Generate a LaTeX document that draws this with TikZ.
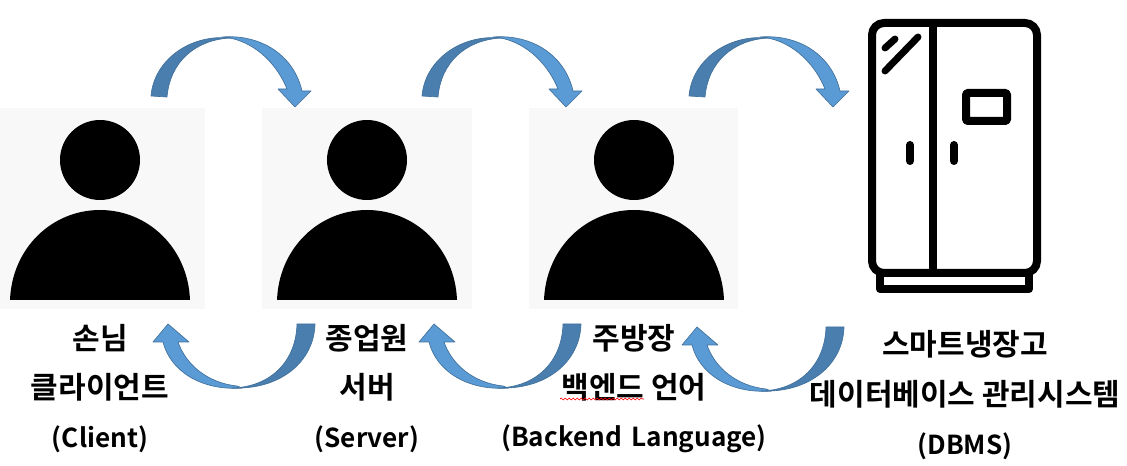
\documentclass[tikz,border=0pt]{standalone}
\usepackage{fontspec}
\setmainfont{Noto Sans CJK KR}[BoldFont={Noto Sans CJK KR Bold}]
\usetikzlibrary{decorations.pathmorphing}
\definecolor{darkblue}{HTML}{4A7EAE}
\definecolor{lightblue}{HTML}{5B9BD5}
\definecolor{edgeblue}{HTML}{41719C}
\definecolor{panelgrey}{HTML}{F8F8F8}
\tikzset{
  x=0.75pt,y=-0.75pt,
  label text/.style={font=\fontsize{22.5pt}{25pt}\selectfont\bfseries,inner sep=0pt,text=black,anchor=center},
  latin text/.style={font=\fontsize{19.6pt}{22pt}\selectfont\bfseries,inner sep=0pt,text=black,anchor=center},
  panel/.style={fill=panelgrey,draw=none},
  dark part/.style={fill=darkblue,draw=edgeblue,line width=0.5pt,line join=round},
  light part/.style={fill=lightblue,draw=edgeblue,line width=0.5pt,line join=round},
  fridge line/.style={draw=black,line width=6pt,line join=round},
  fridge bar/.style={draw=black,line width=6pt,line cap=round},
  glare/.style={draw=black,line width=5.2pt,line cap=round}
}
\newcommand{\overarrow}[1]{%
  \begin{scope}[shift={(#1,0)}]
    \path[light part] (222,37) .. controls (262,34) and (294,56) .. (302,91)
      -- (311,91) -- (295,107) -- (278,89) -- (287,89)
      .. controls (277,64) and (256,44) .. (232,38.5) -- cycle;
    \path[dark part] (151,96) .. controls (154,60) and (190,34) .. (230,38)
      .. controls (195,40) and (170,62) .. (167,97) -- cycle;
  \end{scope}}
\newcommand{\underarrow}[2]{%
  \begin{scope}[shift={(#1,#2)}]
    \path[light part] (242,388) .. controls (200,391) and (170,370) .. (163,342)
      -- (153,342) -- (168,324) -- (189,342) -- (178,342)
      .. controls (186,365) and (208,383) .. (237,386) -- cycle;
    \path[dark part] (315,324) .. controls (314,362) and (280,390) .. (232,388)
      .. controls (270,387) and (296,362) .. (297,324) -- cycle;
  \end{scope}}
\newcommand{\person}[3]{%
  \path[panel] (#2,108) rectangle (#3,309);
  \fill[black] (#1,160) circle [radius=30pt];
  \fill[black] (#1-90,300) .. controls (#1-88,248) and (#1-48,210) .. (#1,210)
     .. controls (#1+48,210) and (#1+88,248) .. (#1+90,300) -- cycle;}
\begin{document}
\begin{tikzpicture}
\useasboundingbox (0,0) rectangle (1127,466);
\fill[white] (0,0) rectangle (1127,466);
\person{100}{0}{205}
\person{367}{262}{472}
\person{634}{529}{738}
% fridge
\draw[fridge line,rounded corners=9pt] (872,23) rectangle (1037,273);
\draw[fridge line] (933,23) -- (933,273);
\draw[fridge line] (880,273) -- (880,289) -- (1029,289) -- (1029,273);
\draw[fridge line,rounded corners=1pt] (966,93) rectangle (1007,121);
\draw[fridge bar] (910,145) -- (910,161);
\draw[fridge bar] (954,145) -- (954,161);
\draw[glare] (885,71) -- (918,37);
\draw[glare] (885,48) -- (895,39);
% arrows
\overarrow{0}
\overarrow{271}
\overarrow{538}
\underarrow{0}{0}
\underarrow{266}{0}
\underarrow{529}{3}
% labels
\node[label text] (a1) at (100,338) {손님};
\node[label text] (a2) at (100,387) {클라이언트};
\node[latin text] (a3) at (100,439) {(Client)};
\node[label text] (b1) at (367,338) {종업원};
\node[label text] (b2) at (367,387) {서버};
\node[latin text] (b3) at (367,439) {(Server)};
\node[label text] (c1) at (634,338) {주방장};
\node[label text] (c2) at (634,387) {백엔드 언어};
\node[latin text] (c3) at (634,439) {(Backend\hspace{0.15em} Language)};
\node[label text] (d1) at (965,344) {스마트냉장고};
\node[label text] (d2) at (965,394) {데이터베이스 관리시스템};
\node[latin text] (d3) at (965,446) {(DBMS)};
\draw[red,line width=0.5pt,decorate,decoration={snake,amplitude=0.7pt,segment length=3pt}] (560,399) -- (644,399);
\end{tikzpicture}
\end{document}
